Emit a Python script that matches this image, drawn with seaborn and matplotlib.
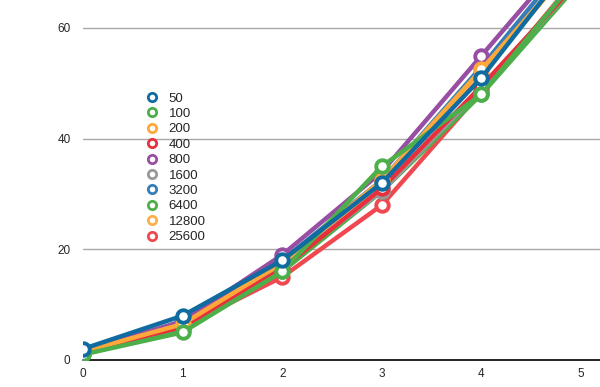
import matplotlib.pyplot as plt
from matplotlib.lines import Line2D
import pandas as pd
import seaborn as sns

sns.set_style('white')
plt.rcParams['font.family'] = ['Liberation Sans', 'DejaVu Sans']

x_vals = [0, 1, 2, 3, 4, 5]
labels = ['50', '100', '200', '400', '800', '1600', '3200', '6400', '12800', '25600']
colors = ['#0F6BA0', '#4DAF4A', '#FFA83A', '#E8303C', '#984EA3',
          '#999999', '#377EB8', '#4DAF4A', '#FFB04A', '#F04850']

s50 = [2, 8, 18, 32, 51, 74]
s100 = [1, 5, 16, 35, 48, 70]
s200 = [1.5, 6.5, 17.5, 32.5, 52.5, 73]
s400 = [1.5, 6, 16.5, 31, 49.5, 69]
s800 = [1.5, 7, 19, 34, 55, 76]
s1600 = [1.5, 6.5, 17, 30.5, 49, 69]
s3200 = [1.5, 7, 18, 32.5, 53, 75]
s6400 = [1, 5.5, 16, 30.5, 48, 68.5]
s12800 = [1.5, 6.5, 17.5, 32, 52, 73]
s25600 = [1.5, 6, 15, 28, 48.5, 70]
series = [s50, s100, s200, s400, s800, s1600, s3200, s6400, s12800, s25600]

fig = plt.figure(figsize=(6, 3.87), dpi=100)
ax = fig.add_axes([83 / 600, 27 / 387, 517 / 600, 360 / 387])

# draw the last series first so "50" ends up on top
for lab, col, vals in reversed(list(zip(labels, colors, series))):
    df = pd.DataFrame({'x': x_vals, 'y': vals})
    sns.lineplot(data=df, x='x', y='y', color=col, ax=ax, lw=3.2,
                 marker='o', markersize=9, markerfacecolor='white',
                 markeredgecolor=col, markeredgewidth=2.8, zorder=3)

ax.set_xlim(0, 5.19)
ax.set_ylim(0, 65.06)
ax.set_xticks(x_vals)
ax.set_yticks([0, 20, 40, 60])
ax.tick_params(length=0, labelsize=8.5, pad=6)
ax.tick_params(axis='y', pad=9)
ax.set_xlabel('')
ax.set_ylabel('')
for s in ax.spines.values():
    s.set_visible(False)
for yv in [20, 40, 60]:
    ax.axhline(yv, color='#A8A8A8', lw=1, zorder=1)
ax.axhline(0, color='black', lw=1.2, zorder=2, clip_on=False)

handles = [Line2D([], [], linestyle='none', marker='o', markersize=6,
                  markerfacecolor='white', markeredgecolor=c, markeredgewidth=2)
           for c in colors]
ax.legend(handles, labels, loc='upper left', bbox_to_anchor=(56 / 517, 1 - 87 / 360),
          frameon=False, fontsize=9.5, handletextpad=0.65, labelspacing=0.24,
          borderaxespad=0, handlelength=1.2)

fig.savefig('out.png', dpi=100)
